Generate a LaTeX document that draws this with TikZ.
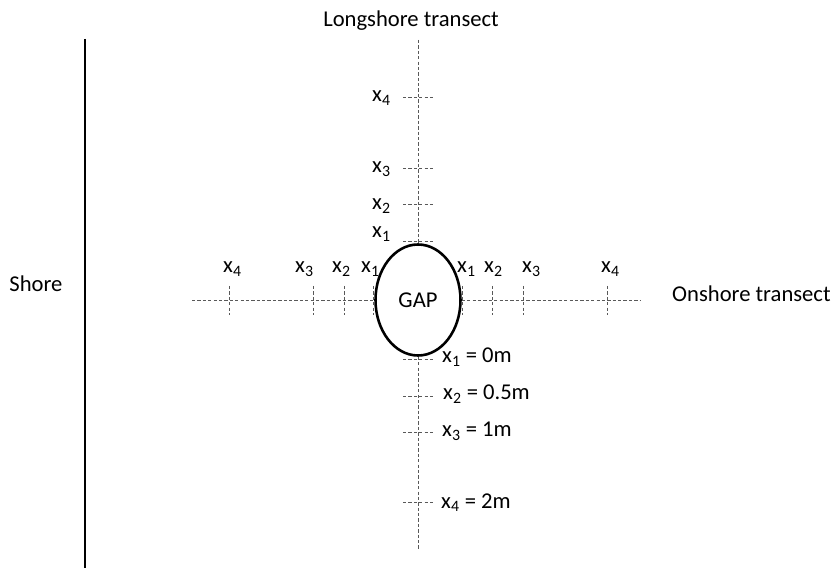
\documentclass[tikz,border=0pt]{standalone}
\usepackage{fontspec}
\setmainfont{Carlito}
\usetikzlibrary{shapes.geometric,positioning}

\begin{document}
\begin{tikzpicture}[x=0.03cm,y=-0.03cm,font=\fontsize{19.3}{23}\selectfont,
  ln/.style={dash pattern=on 2.8pt off 1.8pt,color=black!65,line width=0.7pt},
  lab/.style={inner sep=0pt,anchor=base west}]
  \useasboundingbox (0,0) rectangle (834,570);
  % shore
  \coordinate (shtop) at (85,39); \coordinate (shbot) at (85,568);
  \draw[line width=2.2pt] (shtop)--(shbot);
  \node[anchor=base] (shore) at (36,292) {Shore};
  \node[anchor=base] (longt) at (411,27) {Longshore transect};
  \node[anchor=base west,inner sep=0pt] (ont) at (672,302) {Onshore transect};
  % gap and transects
  \node[draw,ellipse,line width=2.2pt,minimum width=2.55cm,minimum height=3.33cm] (gap) at (418,300) {GAP};
  \coordinate (ltop) at (418,40); \coordinate (lbot) at (418,550);
  \coordinate (oleft) at (192,300); \coordinate (oright) at (640,300);
  \draw[ln] (ltop)--(gap.north); \draw[ln] (gap.south)--(lbot);
  \draw[ln] (oleft)--(gap.west); \draw[ln] (gap.east)--(oright);
  % longshore marks
  \draw[ln] (403,97)--(433,97); \draw[ln] (403,168)--(433,168);
  \draw[ln] (403,204)--(433,204); \draw[ln] (403,241)--(433,241);
  \node[lab] (tx4) at (372,102) {x\textsubscript{4}};
  \node[lab] (tx3) at (372,173) {x\textsubscript{3}};
  \node[lab] (tx2) at (372,210) {x\textsubscript{2}};
  \node[lab] (tx1) at (372,238) {x\textsubscript{1}};
  \draw[ln] (403,359)--(433,359); \draw[ln] (403,396)--(433,396);
  \draw[ln] (403,432)--(433,432); \draw[ln] (403,502)--(433,502);
  \node[lab] (bx1) at (442,363) {x\textsubscript{1} = 0m};
  \node[lab] (bx2) at (443,400) {x\textsubscript{2} = 0.5m};
  \node[lab] (bx3) at (442,437) {x\textsubscript{3} = 1m};
  \node[lab] (bx4) at (441,508) {x\textsubscript{4} = 2m};
  % onshore marks
  \draw[ln] (229,286)--(229,315); \draw[ln] (313,286)--(313,315);
  \draw[ln] (344,286)--(344,315); \draw[ln] (373,286)--(373,315);
  \draw[ln] (462,286)--(462,315); \draw[ln] (492,286)--(492,315);
  \draw[ln] (523,286)--(523,315); \draw[ln] (607,286)--(607,315);
  \node[lab] (lx4) at (223,273) {x\textsubscript{4}};
  \node[lab] (lx3) at (295,273) {x\textsubscript{3}};
  \node[lab] (lx2) at (332,273) {x\textsubscript{2}};
  \node[lab] (lx1) at (361,273) {x\textsubscript{1}};
  \node[lab] (rx1) at (457,273) {x\textsubscript{1}};
  \node[lab] (rx2) at (484,273) {x\textsubscript{2}};
  \node[lab] (rx3) at (522,273) {x\textsubscript{3}};
  \node[lab] (rx4) at (601,273) {x\textsubscript{4}};
\end{tikzpicture}
\end{document}
